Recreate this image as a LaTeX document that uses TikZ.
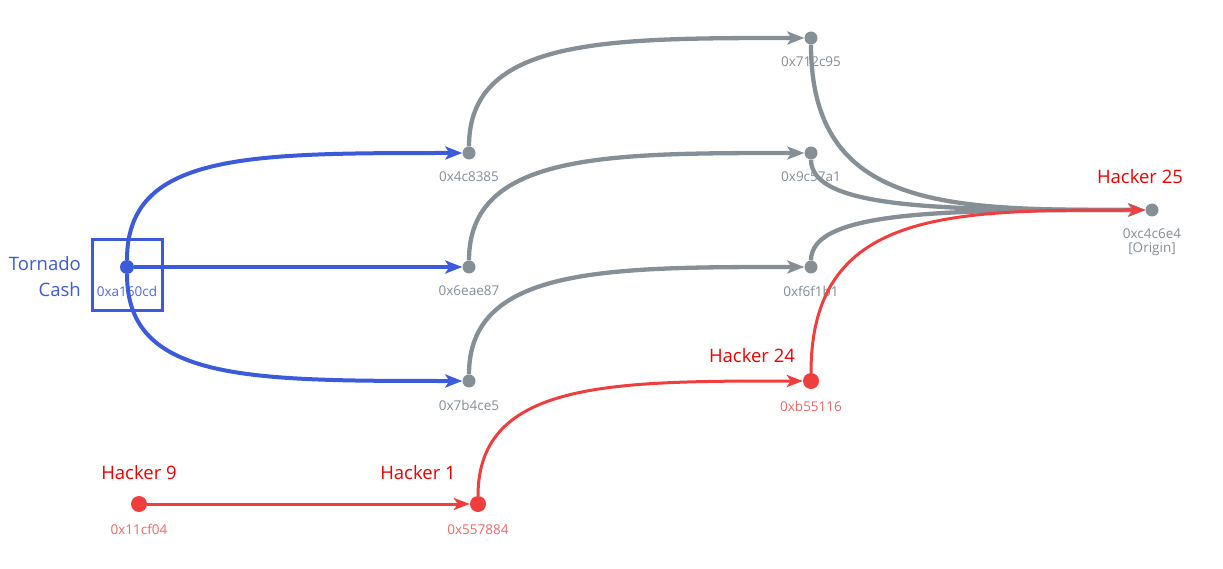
\documentclass[tikz,border=0pt]{standalone}
\usepackage{fontspec}
\setmainfont{Open Sans}
\usepackage{xcolor}
\definecolor{cBlue}{HTML}{3B5BDB}
\definecolor{cBlueTxt}{HTML}{4F69DA}
\definecolor{cGray}{HTML}{868E96}
\definecolor{cGrayTxt}{HTML}{858D95}
\definecolor{cRed}{HTML}{F03E3E}
\definecolor{cRedTxt}{HTML}{F26666}
\definecolor{cHack}{HTML}{F00000}
\usetikzlibrary{arrows.meta,calc}
\tikzset{
  node-dot/.style={circle,inner sep=0pt,minimum size=13pt,label distance=23pt},
  node-gray/.style={node-dot,fill=cGray},
  node-blue/.style={node-dot,fill=cBlue,minimum size=14pt},
  node-red/.style={node-dot,fill=cRed,minimum size=16pt},
  addr/.style={font=\fontsize{13.5}{14}\selectfont,inner sep=0pt,text=cGrayTxt,align=center,yshift=-12pt},
  addr-red/.style={addr,text=cRedTxt},
  addr-blue/.style={addr,text=cBlueTxt},
  tag-hacker/.style={font=\fontsize{18.5}{21}\selectfont,text=cHack,inner sep=0pt},
  % arrow tips kept the same size on all three colours
  arrow-blue/.style={-{Stealth[length=17pt,width=13pt,inset=4pt]},line width=4pt,draw=cBlue},
  arrow-gray/.style={-{Stealth[length=17pt,width=13pt,inset=4pt]},line width=4.3pt,draw=cGray},
  arrow-red/.style={-{Stealth[length=16pt,width=12pt,inset=4pt]},line width=3pt,draw=cRed},
}
\begin{document}
\begin{tikzpicture}[x=1pt,y=-1pt]
  \useasboundingbox (0,0) rectangle (1223,569);
  % addresses
  \node[node-blue,label={[addr-blue]below:0xa160cd}] (tc)  at (127,267) {};
  \node[node-gray,label={[addr]below:0x4c8385}]      (n4c) at (469,153) {};
  \node[node-gray,label={[addr]below:0x6eae87}]      (n6e) at (469,267) {};
  \node[node-gray,label={[addr]below:0x7b4ce5}]      (n7b) at (469,381) {};
  \node[node-gray,label={[addr]below:0x712c95}]      (n71) at (811,38)  {};
  \node[node-gray,label={[addr]below:0x9c57a1}]      (n9c) at (811,153) {};
  \node[node-gray,label={[addr]below:0xf6f1b1}]      (nf6) at (811,267) {};
  \node[node-gray,label={[addr]below:0xc4c6e4\\{[}Origin{]}}] (nc4) at (1152,210) {};
  \node[node-red,label={[addr-red]below:0xb55116}]   (nb5) at (811,381) {};
  \node[node-red,label={[addr-red]below:0x11cf04}]   (n11) at (139,504) {};
  \node[node-red,label={[addr-red]below:0x557884}]   (n55) at (478,504) {};
  % names
  \node[draw=cBlue,line width=3pt,minimum size=70pt] (tcbox) at (127,275) {};
  \node[anchor=east,align=right,text=cBlue,font=\fontsize{18.5}{26}\selectfont,inner sep=0pt]
    (tname) at (81,277) {Tornado\\Cash};
  \node[tag-hacker] (h25) at (1140,177) {Hacker 25};
  \node[tag-hacker] (h24) at (752,356)  {Hacker 24};
  \node[tag-hacker] (h9)  at (139,473)  {Hacker 9};
  \node[tag-hacker] (h1)  at (418,473)  {Hacker 1};
  % flows
  \draw[arrow-blue] (tc) .. controls (tc |- n4c) and ($(tc |- n4c)!.35!(n4c)$) .. (n4c);
  \draw[arrow-blue] (tc) -- (n6e);
  \draw[arrow-blue] (tc) .. controls (tc |- n7b) and ($(tc |- n7b)!.35!(n7b)$) .. (n7b);
  \draw[arrow-gray] (n4c) .. controls (n4c |- n71) and ($(n4c |- n71)!.4!(n71)$) .. (n71);
  \draw[arrow-gray] (n6e) .. controls (n6e |- n9c) and ($(n6e |- n9c)!.4!(n9c)$) .. (n9c);
  \draw[arrow-gray] (n7b) .. controls (n7b |- nf6) and ($(n7b |- nf6)!.4!(nf6)$) .. (nf6);
  \draw[arrow-gray] (n71) .. controls (n71 |- nc4) and ($(n71 |- nc4)!.4!(nc4)$) .. (nc4);
  \draw[arrow-gray] (n9c) .. controls (n9c |- nc4) and ($(n9c |- nc4)!.4!(nc4)$) .. (nc4);
  \draw[arrow-gray] (nf6) .. controls (nf6 |- nc4) and ($(nf6 |- nc4)!.4!(nc4)$) .. (nc4);
  \draw[arrow-red]  (nb5) .. controls (nb5 |- nc4) and ($(nb5 |- nc4)!.4!(nc4)$) .. (nc4);
  \draw[arrow-red]  (n55) .. controls (n55 |- nb5) and ($(n55 |- nb5)!.4!(nb5)$) .. (nb5);
  \draw[arrow-red]  (n11) -- (n55);
\end{tikzpicture}
\end{document}
